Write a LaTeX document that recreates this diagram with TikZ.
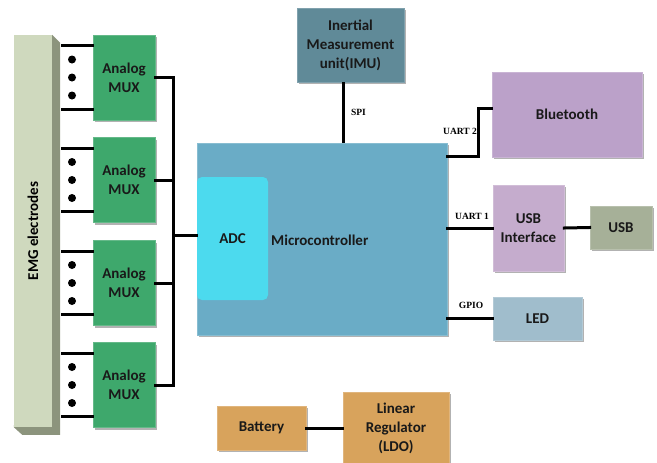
\documentclass[tikz,border=0pt]{standalone}
\usepackage{fontspec}
\setmainfont{Carlito}
\newfontfamily\lblfont{Liberation Serif}
\usetikzlibrary{shadows,positioning,backgrounds}
\definecolor{emgcol}{RGB}{207,217,190}
\definecolor{emgside}{RGB}{140,148,125}
\definecolor{muxcol}{RGB}{62,168,108}
\definecolor{imucol}{RGB}{96,138,152}
\definecolor{mccol}{RGB}{106,172,198}
\definecolor{adccol}{RGB}{76,218,238}
\definecolor{btcol}{RGB}{187,161,201}
\definecolor{usbicol}{RGB}{197,172,205}
\definecolor{usbcol}{RGB}{166,176,152}
\definecolor{ledcol}{RGB}{160,189,204}
\definecolor{batcol}{RGB}{216,163,92}
\tikzset{
  % coloured block with soft shadow
  blk/.style={rectangle, draw=#1!80!white, fill=#1, line width=0.8pt, text=black!90,
              font=\fontsize{15}{19}\selectfont\bfseries, align=center, inner sep=2pt,
              drop shadow={shadow xshift=2pt, shadow yshift=-2pt, opacity=0.3, fill=black}},
  blk/.default={muxcol},
  % thick signal line
  wire/.style={line width=3pt, black, line cap=rect},
  % port label
  portlbl/.style={font=\lblfont\bfseries\fontsize{9.5}{11}\selectfont, inner sep=0pt},
}

\begin{document}
\begin{tikzpicture}[x=1pt, y=-1pt]
  \useasboundingbox (0,0) rectangle (657,463);

  % ── EMG electrode bar ──
  \node[rectangle, fill=emgcol, minimum width=38pt, minimum height=392pt, inner sep=0pt,
        font=\fontsize{15}{19}\selectfont\bfseries] (emg) at (33,231) {\rotatebox{90}{EMG electrodes}};
  \begin{pgfonlayer}{background}
    \fill[emgside] (emg.north east) -- ++(8,8) -- ++(0,392) -- ++(-38,0) -- (emg.south west) -- cycle;
  \end{pgfonlayer}
  \coordinate (edge) at (62,0);
  \coordinate (dotx) at (72,0);
  \coordinate (busx) at (173,0);
  \coordinate (tap) at (173,235);

  % ── Analog multiplexers ──
  \node[blk=muxcol, minimum width=62pt, minimum height=85pt] (mux1) at (124,77.5) {Analog\\MUX};
  \node[blk=muxcol, minimum width=62pt, minimum height=85pt] (mux2) at (124,180) {Analog\\MUX};
  \node[blk=muxcol, minimum width=62pt, minimum height=85pt] (mux3) at (124,283) {Analog\\MUX};
  \node[blk=muxcol, minimum width=62pt, minimum height=85pt] (mux4) at (124,385) {Analog\\MUX};

  \foreach \i in {1,...,4} {
    \coordinate (a\i) at ([yshift=-11pt]mux\i.north west);
    \coordinate (b\i) at ([yshift=11pt]mux\i.south west);
    \draw[wire] (a\i) -- (a\i -| edge);
    \draw[wire] (b\i) -- (b\i -| edge);
    \foreach \d in {-18,0,18}
      \fill ([yshift=\d pt]mux\i.center -| dotx) circle (4);
    \draw[wire] (mux\i.east) -- (mux\i.east -| busx);
  }
  \draw[wire] (mux1.east -| busx) -- (mux4.east -| busx);

  % ── Microcontroller ──
  \node[blk=mccol, minimum width=250pt, minimum height=192pt] (mc) at (322,239) {};
  \node[rectangle, rounded corners=5pt, fill=adccol, minimum width=71pt, minimum height=123pt,
        font=\fontsize{15}{19}\selectfont\bfseries, text=black!90] (adc) at (232.5,238.5) {ADC};
  \node[font=\fontsize{15}{19}\selectfont\bfseries, text=black!90, anchor=west, inner sep=0pt]
    (mclbl) at (271,240) {Microcontroller};
  \draw[wire] (tap) -- (tap -| mc.west);

  % ── IMU ──
  \node[blk=imucol, minimum width=107pt, minimum height=74pt] (imu) at (350.5,45)
    {Inertial\\Measurement\\unit(IMU)};
  \draw[wire, line cap=butt] ([xshift=-7pt]imu.south) -- ([xshift=-7pt]imu.south |- mc.north)
    node[portlbl, pos=0.5, right=6pt] {SPI};

  % ── Bluetooth ──
  \node[blk=btcol, minimum width=150pt, minimum height=85pt] (bt) at (567,114.5) {Bluetooth};
  \draw[wire] (mc.north east) ++(0,14) -- ++(31,0) |- ([yshift=6.5pt]bt.west);
  \node[portlbl] (u2) at (460,131) {UART 2};

  % ── USB path ──
  \node[blk=usbicol, minimum width=71pt, minimum height=86pt] (usbi) at (528.5,228) {USB\\Interface};
  \node[blk=usbcol, minimum width=62pt, minimum height=43pt] (usb) at (621,227.5) {USB};
  \draw[wire] (usbi.west -| mc.east) -- (usbi.west);
  \draw[wire] (usbi.east) -- (usb.west);
  \node[portlbl] (u1) at (472,216) {UART 1};

  % ── LED ──
  \node[blk=ledcol, minimum width=89pt, minimum height=43pt] (led) at (537.5,318.5) {LED};
  \draw[wire] (led.west -| mc.east) -- (led.west);
  \node[portlbl] (gp) at (471,305) {GPIO};

  % ── Power ──
  \node[blk=batcol, minimum width=89pt, minimum height=44pt] (bat) at (261.5,428) {Battery};
  \node[blk=batcol, minimum width=106pt, minimum height=72pt] (ldo) at (396,428)
    {Linear\\Regulator\\(LDO)};
  \draw[wire] (bat.east) -- (ldo.west);

\end{tikzpicture}
\end{document}
